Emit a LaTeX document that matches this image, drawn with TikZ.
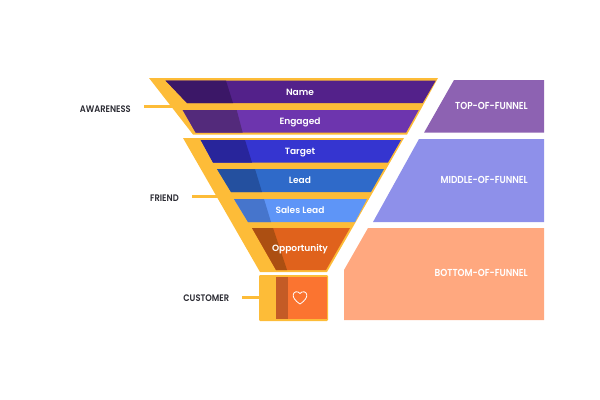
\documentclass[tikz,border=0pt]{standalone}
\usepackage{fontspec}
\setmainfont{Poppins}
\newfontfamily\bandfont{Poppins SemiBold}
\newfontfamily\capsfont[FakeStretch=0.88]{Poppins SemiBold}
\definecolor{gold}{HTML}{FDBC38}
\definecolor{nameD}{HTML}{3B1767}\definecolor{nameM}{HTML}{53218A}
\definecolor{engD}{HTML}{532A7B}\definecolor{engM}{HTML}{6D35AE}
\definecolor{tarD}{HTML}{28259B}\definecolor{tarM}{HTML}{3535D0}
\definecolor{leadD}{HTML}{24509F}\definecolor{leadM}{HTML}{2F6AC9}
\definecolor{salesD}{HTML}{4675CC}\definecolor{salesM}{HTML}{5E95F7}
\definecolor{oppD}{HTML}{AC4F12}\definecolor{oppM}{HTML}{E0621C}
\definecolor{custD}{HTML}{C45B26}\definecolor{custM}{HTML}{FB7430}
\definecolor{panelA}{HTML}{8D62B2}\definecolor{panelB}{HTML}{8E90EA}\definecolor{panelC}{HTML}{FFA87F}
\definecolor{ink}{HTML}{2B2B33}
\tikzset{
  stagelabel/.style={text=white,font=\fontsize{6.8}{8}\bandfont,inner sep=0pt,text height=5pt,text depth=0pt},
  paneltext/.style={text=white,font=\fontsize{7.6}{8}\capsfont,inner sep=0pt,anchor=east,text height=5.2pt,text depth=0pt},
  sidelabel/.style={text=ink,font=\fontsize{7.1}{8}\capsfont,inner sep=0pt,anchor=east,text height=5.2pt,text depth=0pt},
  leader/.style={draw=gold,line width=2.6pt}
}
\begin{document}
\begin{tikzpicture}[x=0.75pt,y=-0.75pt]
\useasboundingbox (0,0) rectangle (600,400);
% funnel body
\fill[gold] (149,78) -- (438,78) -- (407,134.5) -- (193,134.5) -- cycle;
\fill[gold] (183,138) -- (404,138) -- (327,272) -- (260,272) -- cycle;
\fill[gold,rounded corners=0.8pt] (259,275) rectangle (328,321);
% funnel bands: main colour, then the shaded left part
\fill[nameM] (165.7,80.7) -- (435.7,80.7) -- (422.7,103) -- (187,103) -- cycle;
\fill[nameD] (165.7,80.7) -- (226,80.7) -- (233,103) -- (187,103) -- cycle;
\fill[engM] (182.7,110) -- (418.7,110) -- (406,132.7) -- (195.7,132.7) -- cycle;
\fill[engD] (182.7,110) -- (236.7,110) -- (242.7,132.7) -- (195.7,132.7) -- cycle;
\fill[tarM] (200.7,140) -- (401,140) -- (388,162.5) -- (213,162.5) -- cycle;
\fill[tarD] (200.7,140) -- (245,140) -- (252,162.5) -- (213,162.5) -- cycle;
\fill[leadM] (217,169) -- (384,169) -- (371,192) -- (231,192) -- cycle;
\fill[leadD] (217,169) -- (255,169) -- (262,192) -- (231,192) -- cycle;
\fill[salesM] (234,199) -- (367,199) -- (355,222) -- (248,222) -- cycle;
\fill[salesD] (234,199) -- (264,199) -- (271,222) -- (248,222) -- cycle;
\fill[oppM] (252,228) -- (350,228) -- (326,270) -- (276,270) -- cycle;
\fill[oppD] (252,228) -- (273,228) -- (287,270) -- (276,270) -- cycle;
% customer box
\fill[custM] (276,277) rectangle (327,319);
\fill[custD] (276,277) rectangle (288,319);
\draw[white,line width=0.6pt,line join=round]
  (300,304) .. controls (294,300) and (293.2,297) .. (293.2,295)
  .. controls (293.2,291.5) and (298,290.5) .. (300,293.5)
  .. controls (302,290.5) and (306.8,291.5) .. (306.8,295)
  .. controls (306.8,297) and (306,300) .. (300,304) -- cycle;
% side panels
\fill[panelA] (454,80) -- (544,80) -- (544,132.7) -- (424,132.7) -- cycle;
\fill[panelB] (419,139) -- (544,139) -- (544,222) -- (373,222) -- cycle;
\fill[panelC] (368,228) -- (544,228) -- (544,320) -- (344,320) -- (344,270) -- cycle;
% band labels
\node[stagelabel] (name) at (300,91.7) {Name};
\node[stagelabel] (engaged) at (300,120.7) {Engaged};
\node[stagelabel] (target) at (300,150.7) {Target};
\node[stagelabel] (lead) at (300,180.5) {Lead};
\node[stagelabel] (sales) at (300,210) {Sales Lead};
\node[stagelabel] (opportunity) at (300,248.5) {Opportunity};
% panel labels
\node[paneltext] (top) at (528,106) {TOP-OF-FUNNEL};
\node[paneltext] (middle) at (528,180.5) {MIDDLE-OF-FUNNEL};
\node[paneltext] (bottom) at (528,273.5) {BOTTOM-OF-FUNNEL};
% stage labels with their leader lines
\node[sidelabel] (awareness) at (131,109) {AWARENESS};
\node[sidelabel] (friend) at (179,198) {FRIEND};
\node[sidelabel] (customer) at (229.5,298) {CUSTOMER};
\coordinate (awareA) at (144,106.7);
\coordinate (awareB) at (173,106.7);
\coordinate (friendA) at (192,196.5);
\coordinate (friendB) at (218,196.5);
\coordinate (custA) at (242,297.7);
\coordinate (custB) at (260,297.7);
\draw[leader] (awareA) -- (awareB);
\draw[leader] (friendA) -- (friendB);
\draw[leader] (custA) -- (custB);
\end{tikzpicture}
\end{document}
